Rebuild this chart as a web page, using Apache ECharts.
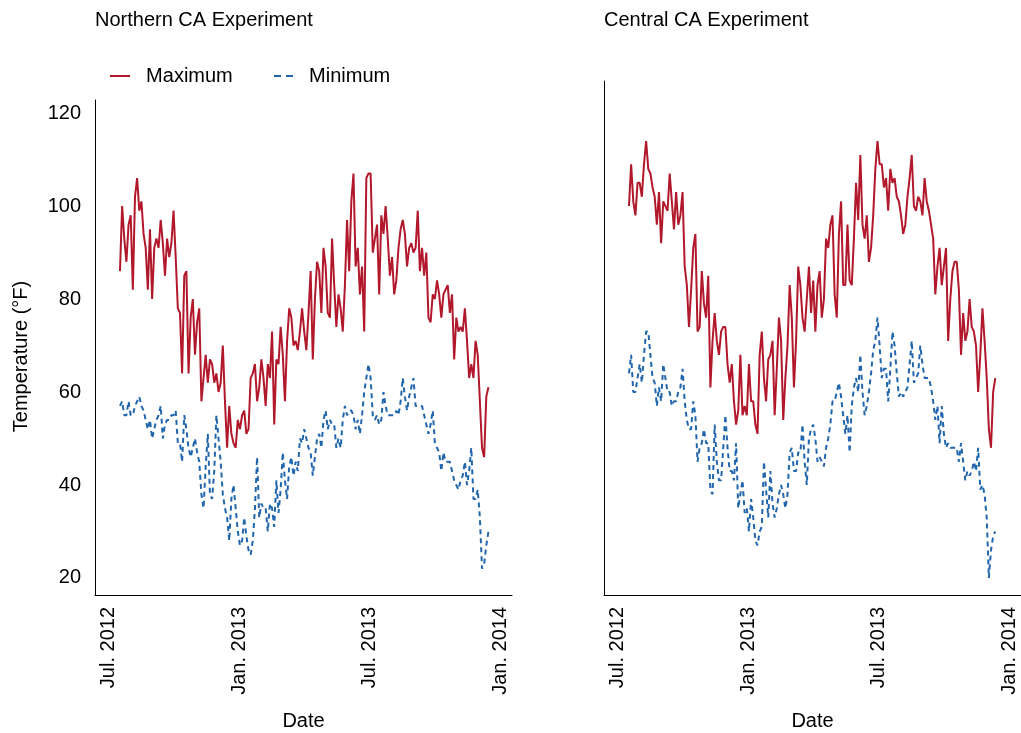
<!DOCTYPE html>
<html>
<head>
<meta charset="utf-8">
<script src="https://cdn.jsdelivr.net/npm/echarts@6/dist/echarts.min.js"></script>
<style>
html,body{margin:0;padding:0;background:#fff;}
#chart{width:1021px;height:733px;}
</style>
</head>
<body>
<div id="chart"></div>
<script>
// ---- data, one value every 3 days starting 2012-07-17 ----
const startYear = 2012, startMonth = 6, startDay = 17, stepDays = 3;

const northMax = [86,100,93,88,96,98,82,102,106,99,
101,94,91,82,95,80,91,93,91,97,
92,85,93,89,92,99,89,78,77,64,
85,86,64,76,80,68,75,78,58,63,
68,62,67,66,62,64,60,62,70,58,
48,57,51,49,48,54,52,55,56,51,
52,63,64,66,58,61,67,63,57,66,
63,73,53,67,66,74,68,58,71,78,
76,70,71,69,73,78,73,69,77,86,
67,80,88,86,77,91,87,77,76,93,
83,74,81,78,73,83,97,86,101,107,
87,91,81,87,73,106,107,107,90,93,
96,81,98,94,100,93,85,89,81,84,
91,95,97,94,87,91,92,90,91,99,
86,91,85,90,76,75,81,80,84,81,
76,81,82,83,77,81,67,76,73,74,
73,78,71,63,66,63,71,68,58,48,
46,59,61];

const northMin = [57,58,55,55,58,55,55,57,58,59,
57,56,54,52,54,50,52,54,55,57,
50,53,54,54,55,55,56,49,49,45,
55,52,48,46,48,50,47,45,38,35,
44,51,38,37,43,55,50,45,38,35,
33,28,37,40,35,30,27,28,33,29,
26,25,28,35,46,33,36,35,35,30,
36,35,31,41,34,39,47,41,37,44,
46,42,45,43,50,49,52,50,48,47,
42,46,50,51,48,54,56,52,54,53,
53,48,50,48,54,57,55,56,56,55,
52,54,51,55,60,63,66,63,55,54,
55,53,54,60,57,55,55,55,55,56,
55,58,63,59,56,59,61,63,57,57,
57,57,55,53,51,53,56,49,48,47,
43,47,45,45,45,43,41,40,39,41,
42,45,40,43,48,37,37,39,33,22,
23,27,30];

const centralMax = [100,109,101,98,105,105,102,109,114,108,
107,104,102,96,103,92,101,100,99,107,
101,95,103,96,98,103,87,83,74,82,
91,94,73,74,86,79,76,85,61,71,
77,71,68,73,74,74,66,62,66,58,
53,56,68,55,57,55,66,58,58,53,
51,68,73,63,58,67,68,71,55,65,
76,71,54,63,70,83,76,61,71,87,
83,76,73,80,87,77,84,73,83,86,
76,80,93,91,96,98,81,76,94,101,
83,83,96,84,83,93,105,97,111,96,
93,98,88,91,98,108,114,109,109,104,
106,99,108,105,106,102,101,98,94,96,
102,106,111,100,99,102,101,98,106,101,
99,96,93,81,87,91,83,87,91,71,
80,86,88,88,82,68,77,71,73,80,
74,73,70,60,68,78,71,63,52,48,
60,63];

const centralMin = [64,68,60,60,63,66,62,68,73,73,
68,63,62,57,61,58,66,63,60,60,
57,58,58,60,61,65,58,54,52,52,
58,55,45,48,49,52,49,49,39,38,
53,45,41,41,48,55,48,43,43,41,
49,35,38,41,34,35,30,37,33,28,
27,30,31,45,39,33,43,36,33,35,
38,40,38,35,38,47,48,43,43,47,
47,53,45,40,50,52,53,50,45,46,
45,44,48,50,53,58,58,60,62,59,
55,51,55,47,57,61,63,60,68,60,
55,57,60,64,69,71,76,70,63,65,
65,58,65,73,70,64,59,60,59,60,
61,66,71,62,63,64,70,66,63,63,
63,61,58,54,57,49,57,51,48,49,
48,48,48,48,45,49,45,41,43,42,
43,45,43,48,39,40,38,33,20,26,
29,30];

const panelTitles = ['Northern CA Experiment', 'Central CA Experiment'];
const seriesNames = ['Maximum', 'Minimum'];
const yTickValues = [20, 40, 60, 80, 100, 120];
const xTickLabels = ['Jul. 2012', 'Jan. 2013', 'Jul. 2013', 'Jan. 2014'];
const xTickDates = [[2012, 6, 1], [2013, 0, 1], [2013, 6, 1], [2014, 0, 1]];

// ---- build ----
function dayTs(y, m, d) { return Date.UTC(y, m, d); }
function pairs(vals) {
  return vals.map((v, i) => [dayTs(startYear, startMonth, startDay + stepDays * i), v]);
}
const xTicks = xTickDates.map(d => dayTs(d[0], d[1], d[2]));
const xMin = dayTs(2012, 5, 12), xMax = dayTs(2014, 0, 17);

const RED = '#B2182B', BLUE = '#2166AC';
const FONT = 'Liberation Sans, Arial, Helvetica, sans-serif';
const TXT = '#000';

function xAxisDef(gi) {
  return {
    type: 'value', gridIndex: gi, min: xMin, max: xMax, scale: true,
    axisLine: { show: true, onZero: false, lineStyle: { color: '#000', width: 1 } },
    axisTick: { show: false },
    splitLine: { show: false },
    axisLabel: {
      rotate: 90, margin: 12, fontSize: 20, color: TXT, fontFamily: FONT,
      customValues: xTicks,
      formatter: function (v) {
        let k = -1;
        xTicks.forEach((t, j) => { if (Math.abs(t - v) < 3600000) k = j; });
        return k >= 0 ? xTickLabels[k] : '';
      }
    },
    name: 'Date', nameLocation: 'middle', nameGap: 116,
    nameTextStyle: { fontSize: 20, color: TXT, fontFamily: FONT }
  };
}

const chart = echarts.init(document.getElementById('chart'), null, { renderer: 'canvas' });
chart.setOption({
  animation: false,
  backgroundColor: '#fff',
  textStyle: { fontFamily: FONT },
  title: [
    { text: panelTitles[0], left: 95, top: 10, padding: 0,
      textStyle: { fontSize: 20, fontWeight: 'normal', color: TXT, fontFamily: FONT } },
    { text: panelTitles[1], left: 604, top: 10, padding: 0,
      textStyle: { fontSize: 20, fontWeight: 'normal', color: TXT, fontFamily: FONT } }
  ],
  legend: [
    { data: [{ name: seriesNames[0], icon: 'rect' }], left: 110, top: 66, padding: 0,
      itemWidth: 20, itemHeight: 2, formatter: '  {name}',
      itemStyle: { color: RED, borderWidth: 0 }, lineStyle: { opacity: 0 },
      textStyle: { fontSize: 20, color: TXT, fontFamily: FONT } },
    { data: [{ name: seriesNames[1], icon: 'path://M0,0h7v2h-7z M12,0h7v2h-7z' }], left: 274, top: 66, padding: 0,
      itemWidth: 19, itemHeight: 2, formatter: '  {name}',
      itemStyle: { color: BLUE, borderWidth: 0 }, lineStyle: { opacity: 0 },
      textStyle: { fontSize: 20, color: TXT, fontFamily: FONT } }
  ],
  grid: [
    { left: 95, top: 100, width: 417, height: 495, outerBoundsMode: 'none', containLabel: false },
    { left: 604, top: 81, width: 417, height: 514, outerBoundsMode: 'none', containLabel: false }
  ],
  xAxis: [xAxisDef(0), xAxisDef(1)],
  yAxis: [
    { type: 'value', gridIndex: 0, min: 16.34, max: 122.8,
      axisLine: { show: true, onZero: false, lineStyle: { color: '#000', width: 1 } },
      axisTick: { show: false }, splitLine: { show: false },
      axisLabel: { customValues: yTickValues, margin: 14, fontSize: 20, color: TXT, fontFamily: FONT,
                   padding: [4, 0, 0, 0] },
      name: 'Temperature (°F)', nameLocation: 'middle', nameRotate: 90, nameGap: 64,
      nameTextStyle: { fontSize: 20, color: TXT, fontFamily: FONT, padding: [0, 18, 0, 0] } },
    { type: 'value', gridIndex: 1, min: 16.34, max: 126.9,
      axisLine: { show: true, onZero: false, lineStyle: { color: '#000', width: 1 } },
      axisTick: { show: false }, splitLine: { show: false },
      axisLabel: { show: false } }
  ],
  series: [
    { name: seriesNames[0], type: 'line', xAxisIndex: 0, yAxisIndex: 0, data: pairs(northMax),
      symbol: 'none', color: RED, lineStyle: { color: RED, width: 2 } },
    { name: seriesNames[1], type: 'line', xAxisIndex: 0, yAxisIndex: 0, data: pairs(northMin),
      symbol: 'none', color: BLUE, lineStyle: { color: BLUE, width: 2, type: [5, 4] } },
    { name: seriesNames[0], type: 'line', xAxisIndex: 1, yAxisIndex: 1, data: pairs(centralMax),
      symbol: 'none', color: RED, lineStyle: { color: RED, width: 2 } },
    { name: seriesNames[1], type: 'line', xAxisIndex: 1, yAxisIndex: 1, data: pairs(centralMin),
      symbol: 'none', color: BLUE, lineStyle: { color: BLUE, width: 2, type: [5, 4] } }
  ]
});
</script>
</body>
</html>
